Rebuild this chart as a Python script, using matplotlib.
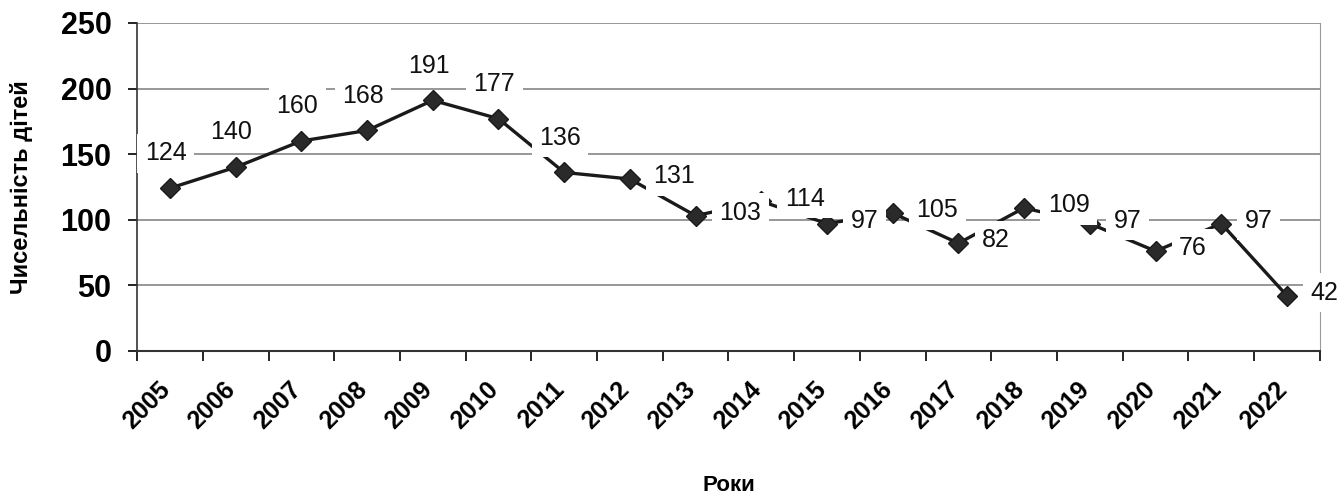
import numpy as np
import matplotlib.pyplot as plt
from matplotlib.transforms import ScaledTranslation

plt.rcParams['font.family'] = ['Liberation Sans', 'DejaVu Sans']

years = ['2005', '2006', '2007', '2008', '2009', '2010', '2011', '2012', '2013',
         '2014', '2015', '2016', '2017', '2018', '2019', '2020', '2021', '2022']
children = [124, 140, 160, 168, 191, 177, 136, 131, 103,
            114, 97, 105, 82, 109, 97, 76, 97, 42]
# where each data label sits: above the point or to the right of it
label_side = ['up'] * 7 + ['right'] * 11

fig = plt.figure(figsize=(13.44, 4.99), dpi=100)
ax = fig.add_axes([0.102, 0.297, 0.880, 0.657])

x = np.arange(len(years))
ax.plot(x, children, color='#1a1a1a', lw=2.4, marker='D', ms=10,
        mfc='#2a2a2a', mec='#1a1a1a', zorder=3)

for xi, v, side in zip(x, children, label_side):
    if side == 'up':
        off, ha = (-3, 25), 'center'
    else:
        off, ha = (17, 2), 'left'
    ax.annotate(str(v), (xi, v), xytext=off, textcoords='offset points',
                ha=ha, va='center', fontsize=18, color='#111111', zorder=5,
                bbox=dict(boxstyle='square,pad=0.3', fc='white', ec='none'))

ax.set_xlim(-0.5, len(years) - 0.5)
ax.set_ylim(0, 250)
ax.set_yticks([0, 50, 100, 150, 200, 250])
ax.yaxis.grid(True, color='#7a7a7a', lw=1.1, zorder=0)
ax.set_axisbelow(True)

# tick marks on category boundaries, labels at centres
ax.set_xticks(np.arange(-0.5, len(years), 1.0))
ax.set_xticklabels([])
ax.set_xticks(x, minor=True)
ax.set_xticklabels(years, minor=True, rotation=45, ha='right', va='center',
                   rotation_mode='anchor', fontsize=18, fontweight='bold')
ax.tick_params(axis='x', which='major', length=7, width=1.2, direction='out')
ax.tick_params(axis='x', which='minor', length=0, pad=25)
for lbl in ax.get_xticklabels(minor=True):
    lbl.set_transform(lbl.get_transform() + ScaledTranslation(-0.04, 0, fig.dpi_scale_trans))

ax.tick_params(axis='y', length=6.5, width=1.2, labelsize=22, pad=12)
for lbl in ax.get_yticklabels():
    lbl.set_fontweight('bold')

ax.spines['top'].set_visible(False)
ax.spines['right'].set_color('#9a9a9a')
ax.spines['left'].set_color('#333333')
ax.spines['left'].set_linewidth(1.2)
ax.spines['bottom'].set_color('#333333')
ax.spines['bottom'].set_linewidth(1.5)

ax.set_ylabel('Чисельність дітей', fontsize=17, fontweight='bold')
ax.yaxis.set_label_coords(-0.088, 0.5)
ax.set_xlabel('Роки', fontsize=16, fontweight='bold')
ax.xaxis.set_label_coords(0.5, -0.38)

fig.savefig('out.png', dpi=100, facecolor='white')
